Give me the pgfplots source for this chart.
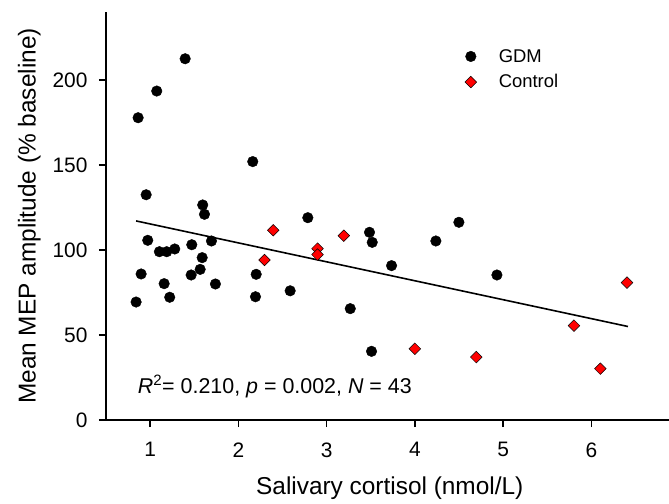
\documentclass[border=0pt]{standalone}
\usepackage{fontspec}
\setmainfont{Liberation Sans}
\usepackage{pgfplots}
\pgfplotsset{compat=1.18}

\begin{document}
\begin{tikzpicture}
\begin{axis}[
 scale only axis, width=563bp, height=408bp,
 xmin=0.5, xmax=6.88, ymin=0, ymax=240,
 axis lines*=left,
 axis line style={line width=1.6bp},
 xtick={1,...,6}, ytick={0,50,...,200},
 tick style={line width=1.6bp, black},
 major tick length=7bp,
 tick align=outside,
 /pgf/number format/assume math mode=true,
 tick label style={font=\fontsize{21}{25}\selectfont},
 xticklabel style={yshift=-12bp},
 yticklabel style={xshift=-8bp},
 xlabel={Salivary cortisol (nmol/L)},
 ylabel={Mean MEP amplitude (\% baseline)},
 label style={font=\fontsize{24.5}{29}\selectfont},
 xlabel style={at={(axis description cs:0.504,-0.167)}, anchor=center},
 ylabel style={at={(axis description cs:-0.136,0.5)}, anchor=center},
 legend image code/.code={\path[draw=none,fill=none] (-6bp,-6bp) rectangle (26bp,6bp); \draw[#1] plot coordinates {(0bp,0bp)};},
 legend style={draw=none, fill=none, font=\fontsize{18.5}{22}\selectfont,
   at={(axis description cs:0.637,0.914)}, anchor=north west, row sep=7bp, inner sep=0pt},
 legend cell align=left,
 clip=false,
]
\addplot[only marks, mark=*, mark size=5.3bp, black] table {
x y
1.397 212.5
1.075 193.5
0.864 177.8
2.163 152
0.955 132.5
1.596 126.5
1.616 121
2.787 119
0.973 105.7
1.105 99
1.188 99
1.279 100.6
1.472 103.1
1.695 105.3
1.590 95.5
1.567 88.6
1.465 85.3
0.898 85.9
1.159 80.2
1.740 80
1.222 72.2
0.841 69.4
2.202 85.7
2.194 72.5
2.587 76
3.268 65.5
3.509 40.4
3.486 110.4
3.517 104.5
4.499 116.3
4.238 105.3
3.736 90.8
4.930 85.3
};
\addlegendentry{GDM}
\addplot[only marks, mark=square*, mark size=4.1bp, mark options={rotate=45, fill=red, draw=black, line width=0.5bp}] table {
x y
2.395 111.6
2.296 94.1
2.897 100.8
2.897 97.3
3.195 108.4
6.404 80.8
5.803 55.5
4.000 41.9
4.696 37
6.102 30.2
};
\addlegendentry{Control}
\addplot[black, line width=1.6bp, forget plot] coordinates {(0.841,117.1) (6.415,55)};
\node[anchor=base west, font=\fontsize{21.5}{25}\selectfont] at (axis cs:0.822,15.7) {\textit{R}\textsuperscript{2}= 0.210, \textit{p} = 0.002, \textit{N} = 43};
\end{axis}
\pgfresetboundingbox
\useasboundingbox (-106bp,-84bp) rectangle (563bp,420bp);
\end{tikzpicture}
\end{document}
